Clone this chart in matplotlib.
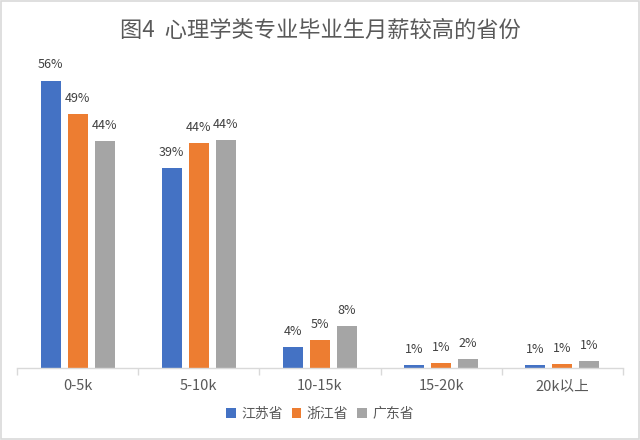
import matplotlib
matplotlib.use("Agg")
import matplotlib.pyplot as plt
import numpy as np
from matplotlib.patches import Rectangle

plt.rcParams['font.family'] = ['Noto Sans CJK SC', 'DejaVu Sans']
plt.rcParams['font.weight'] = 'light'

categories = ['0-5k', '5-10k', '10-15k', '15-20k', '20k以上']
series_names = ['江苏省', '浙江省', '广东省']
jiangsu = [56, 39, 4.1, 0.6, 0.6]
zhejiang = [49.5, 43.8, 5.4, 0.9, 0.8]
guangdong = [44.2, 44.4, 8.2, 1.8, 1.3]
jiangsu_labels = ['56%', '39%', '4%', '1%', '1%']
zhejiang_labels = ['49%', '44%', '5%', '1%', '1%']
guangdong_labels = ['44%', '44%', '8%', '2%', '1%']
colors = ['#4472C4', '#ED7D31', '#A5A5A5']
title = '图4  心理学类专业毕业生月薪较高的省份'

fig = plt.figure(figsize=(6.4, 4.4), dpi=100)
fig.patch.set_facecolor('white')
fig.add_artist(Rectangle((0.002, 0.002), 0.996, 0.996, transform=fig.transFigure,
                         fill=False, edgecolor='#D9D9D9', linewidth=1.2))

ax = fig.add_axes([17/640, 1-368/440, 606/640, 308/440])
x = np.arange(len(categories))
w = 0.165
step = 0.223
all_vals = [jiangsu, zhejiang, guangdong]
all_labels = [jiangsu_labels, zhejiang_labels, guangdong_labels]
for i, (vals, labs, c, name) in enumerate(zip(all_vals, all_labels, colors, series_names)):
    pos = x + (i - 1) * step
    ax.bar(pos, vals, width=w, color=c, label=name)
    for p, v, l in zip(pos, vals, labs):
        ax.text(p, v + 1.8, l, ha='center', va='bottom', fontsize=9, color='#404040')

ax.set_xlim(-0.5, len(categories) - 0.5)
ax.set_ylim(0, 60)
ax.set_yticks([])
for s in ['top', 'right', 'left']:
    ax.spines[s].set_visible(False)
ax.spines['bottom'].set_color('#D9D9D9')
ax.spines['bottom'].set_linewidth(1)
ax.set_xticks(x)
ax.set_xticklabels(categories, fontsize=10.5, color='#595959')
ax.tick_params(axis='x', length=0, pad=8)
ax.set_xticks(np.arange(len(categories) + 1) - 0.5, minor=True)
ax.tick_params(axis='x', which='minor', length=5, color='#D9D9D9', width=1)

fig.text(0.5, 1 - 30/440, title, ha='center', va='center', fontsize=16, color='#595959')

fig.legend(loc='center', bbox_to_anchor=(0.5, 1 - 414/440), ncol=3, frameon=False,
           fontsize=10, handlelength=0.7, handleheight=0.7, handletextpad=0.4,
           columnspacing=0.6, labelcolor='#595959')

fig.savefig('out.png', dpi=100, facecolor='white')
